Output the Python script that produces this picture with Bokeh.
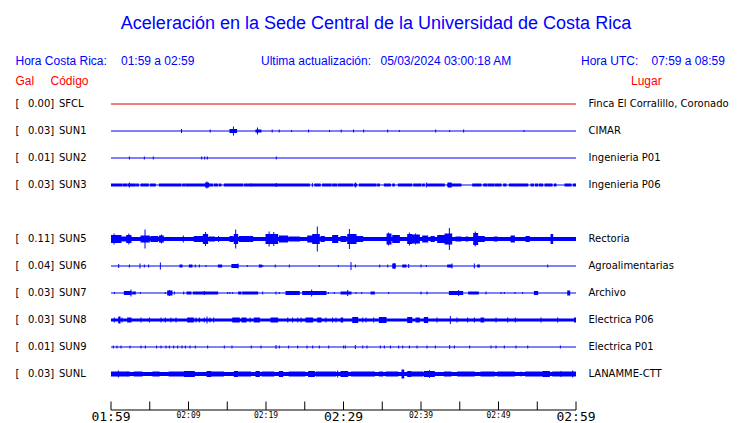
from bokeh.plotting import figure
from bokeh.models import Range1d, ColumnDataSource
from bokeh.core.properties import value
from bokeh.embed import file_html
from bokeh.resources import INLINE

# ---------------- data ----------------
title_text = "Aceleración en la Sede Central de la Universidad de Costa Rica"
hora_cr = "01:59 a 02:59"
ultima = "05/03/2024 03:00:18 AM"
hora_utc = "07:59 a 08:59"

codes = ["SFCL", "SUN1", "SUN2", "SUN3", "SUN5", "SUN6", "SUN7", "SUN8", "SUN9", "SUNL"]
gal = [0.00, 0.03, 0.01, 0.03, 0.11, 0.04, 0.03, 0.03, 0.01, 0.03]
lugares = ["Finca El Corralillo, Coronado", "CIMAR", "Ingenieria P01", "Ingenieria P06",
           "Rectoria", "Agroalimentarias", "Archivo", "Electrica P06", "Electrica P01",
           "LANAMME-CTT"]
slots = [0, 1, 2, 3, 5, 6, 7, 8, 9, 10]          # display slot (SUN4 has no trace)
trace_colors = ["#e00000"] + ["#0000ff"] * 9
# background noise half-amplitude of each trace (display units, 27 per slot)
noise_floor = [0, 0, 0, 1.5, 2, 0, 0, 1.5, 0, 2]

# tick marks (minutes after 01:59)
tick_minutes = [0, 5, 10, 15, 20, 25, 30, 35, 40, 45, 50, 55, 60]
major_minutes = [0, 30, 60]
major_labels = ["01:59", "02:29", "02:59"]
minor_minutes = [10, 20, 40, 50]
minor_labels = ["02:09", "02:19", "02:39", "02:49"]

# bursts: (start min, end min, half amplitude in display units)
sfcl = []
sun1 = [(9.1, 9.1, 2), (12.8, 12.8, 1.5), (15.35, 16.2, 2), (15.8, 15.8, 4.5), (18.7, 19.35, 1.5),
        (18.9, 18.9, 3.5), (20.8, 20.8, 1.5), (21.7, 21.7, 1.5), (23.3, 23.3, 1), (25.5, 25.5, 1.5),
        (28.2, 28.2, 1), (29.7, 29.7, 1.5), (31.3, 31.3, 1.5), (32.6, 32.6, 1.5), (35.7, 35.7, 1.5),
        (37.2, 37.2, 1), (41.9, 41.9, 1.5), (43.7, 43.7, 1), (45.5, 45.5, 1.5), (53.3, 53.3, 1)]
sun2 = [(2.37, 2.37, 1.5), (4.3, 4.3, 1.5), (5.46, 5.46, 1.5), (11.7, 11.7, 1.5), (12.09, 12.09, 1.5),
        (12.43, 12.43, 1.5), (21.33, 21.33, 1.5)]
sun3_floor = [(0.0, 1.42), (1.59, 2.02), (2.19, 3.14), (3.31, 3.53), (3.87, 4.82), (5.08, 5.72),
              (6.24, 9.03), (9.25, 9.55), (9.68, 12.26), (12.47, 13.12), (13.33, 13.76), (13.98, 14.19),
              (14.62, 16.99), (17.2, 25.6), (26.3, 27.0), (27.3, 28.4), (28.6, 29.1), (29.3, 31.19),
              (31.4, 31.7), (32.05, 34.2), (34.41, 34.63), (35.27, 36.05), (36.35, 36.56), (37.08, 38.8),
              (39.06, 40.0), (40.22, 40.43), (40.78, 43.01), (43.44, 45.16), (46.67, 47.74), (48.09, 48.48),
              (48.65, 49.38), (49.55, 50.32), (50.67, 50.97), (51.4, 52.26), (52.35, 53.77), (54.2, 54.5),
              (54.76, 55.06), (55.27, 55.7), (56.0, 56.91), (57.21, 57.42), (58.58, 59.36), (59.66, 60.0)]
sun3 = [(2.37, 2.37, 2.5), (12.2, 12.6, 2.5), (12.39, 12.39, 3.5), (18.1, 18.1, 1.5), (21.33, 21.33, 2),
        (25.98, 25.98, 2), (31.53, 31.53, 2.5), (40.69, 40.69, 2.5), (43.5, 43.9, 2.5)]
sun5 = [(0.0, 1.29, 4), (0.4, 0.4, 5.5), (1.42, 1.94, 2.5), (2.02, 2.58, 4), (2.3, 2.3, 5.5), (2.8, 3.44, 2),
        (3.87, 4.95, 3.5), (4.39, 4.39, 9.5), (5.16, 6.02, 3), (6.24, 6.75, 3.5), (6.5, 6.5, 4.5),
        (7.1, 7.96, 2), (9.33, 9.33, 3.5), (10.11, 10.54, 2), (10.75, 11.83, 3), (11.91, 12.47, 5),
        (12.2, 12.2, 7), (12.69, 13.33, 2.5), (13.89, 13.89, 3), (14.41, 14.84, 2), (15.35, 15.78, 3),
        (15.91, 16.34, 5), (16.09, 16.09, 9.5), (16.56, 18.28, 3), (18.71, 19.57, 2), (20.0, 21.5, 5),
        (20.4, 20.4, 7.5), (21.0, 21.0, 7), (21.72, 22.8, 3.5), (23.01, 24.3, 2.5), (24.73, 25.16, 2),
        (25.38, 26.24, 3.5), (26.02, 26.88, 5), (26.62, 26.62, 12.5), (27.1, 27.53, 3), (28.6, 29.25, 4),
        (29.68, 30.32, 3), (30.54, 31.62, 5), (30.76, 30.76, 10), (31.62, 32.48, 3), (33.98, 34.63, 2),
        (35.62, 36.13, 5.5), (35.8, 35.8, 6.5), (36.35, 37.21, 4), (38.28, 38.8, 5), (38.5, 38.5, 6.5),
        (38.8, 39.79, 4.5), (39.3, 39.3, 5.5), (40.22, 40.86, 3.5), (41.29, 41.72, 3), (42.15, 43.1, 4),
        (43.1, 43.96, 5.5), (43.66, 43.66, 11), (44.52, 45.16, 2.5), (45.81, 46.02, 2.5), (46.8, 47.31, 6),
        (47.0, 47.0, 7.5), (47.31, 48.17, 3), (49.46, 49.81, 2.5), (51.62, 52.05, 3.5), (53.55, 53.98, 3),
        (55.7, 56.13, 2), (56.78, 56.99, 5), (58.28, 58.28, 2), (59.79, 60.0, 2)]
sun6 = [(0.99, 0.99, 2), (2.37, 2.37, 1.5), (3.74, 3.74, 2.5), (4.3, 4.3, 1.5), (4.86, 4.86, 1.5),
        (6.37, 6.37, 3.5), (8.9, 9.16, 1.5), (10.11, 10.45, 1.5), (10.88, 10.88, 1.5), (11.4, 11.4, 1.5),
        (12.26, 12.26, 1), (13.85, 14.28, 1.5), (15.6, 16.34, 2), (16.4, 16.4, 2.5), (17.59, 17.59, 1),
        (19.14, 19.4, 1.5), (19.57, 19.57, 1), (21.2, 21.2, 1.5), (23.01, 23.01, 1.5), (26.88, 26.88, 1),
        (29.33, 29.33, 1), (30.97, 30.97, 4), (31.53, 31.53, 1.5), (34.67, 34.67, 1.5), (35.7, 35.7, 1.5),
        (36.35, 36.69, 2.5), (36.56, 36.56, 3), (37.64, 38.07, 1.5), (38.41, 38.41, 2), (40.0, 40.0, 1.5),
        (40.69, 40.69, 1), (43.44, 43.96, 1.5), (44.0, 44.0, 2.5), (46.88, 46.88, 2.5), (47.31, 47.53, 1.5),
        (56.35, 56.35, 1.5)]
sun7 = [(0.43, 0.43, 1), (1.72, 2.58, 2), (2.58, 2.58, 3.5), (2.8, 3.14, 1.5), (3.79, 3.79, 1),
        (7.01, 7.01, 1), (7.31, 7.87, 2.5), (7.53, 7.53, 3), (8.17, 8.17, 1.5), (9.38, 9.38, 1.5),
        (9.81, 10.32, 1.5), (10.62, 13.76, 1.5), (12.04, 12.04, 2), (15.05, 15.05, 1), (15.35, 15.35, 1),
        (15.7, 15.7, 1), (16.47, 16.77, 1.5), (16.99, 18.92, 1.5), (19.57, 19.57, 1.5), (21.29, 21.29, 1.5),
        (21.72, 21.72, 1), (22.58, 24.3, 2), (24.73, 27.74, 2), (25.89, 25.89, 3.5), (28.04, 28.04, 1),
        (28.82, 28.82, 1), (29.68, 30.97, 1.5), (30.54, 30.54, 3), (31.62, 31.62, 1), (32.35, 32.35, 1),
        (33.55, 33.98, 1.5), (35.83, 35.83, 1), (40.0, 40.0, 1.5), (40.78, 40.78, 1.5), (43.66, 45.38, 2),
        (44.86, 44.86, 3), (46.15, 47.4, 1.5), (48.39, 48.39, 1.5), (50.32, 50.32, 1), (50.75, 50.75, 1),
        (52.13, 52.13, 1), (53.12, 53.12, 1), (54.63, 55.06, 2), (58.93, 59.19, 2.5)]
sun8 = [(0.43, 0.43, 2.5), (0.99, 1.16, 3.5), (1.42, 1.42, 2.5), (2.15, 2.58, 2.5), (3.87, 3.87, 2.5),
        (4.95, 4.95, 2.5), (6.45, 6.45, 2.5), (7.01, 7.01, 2.5), (7.74, 7.74, 2.5), (8.39, 8.39, 2.5),
        (9.89, 10.62, 2.5), (10.97, 10.97, 2.5), (11.4, 11.4, 2.5), (12.04, 12.04, 2.5), (12.39, 12.39, 3.5),
        (12.77, 12.77, 2.5), (13.25, 13.25, 2.5), (15.7, 16.56, 2.5), (16.9, 17.42, 2.5), (17.94, 17.94, 2.5),
        (18.5, 19.14, 2.5), (20.65, 21.5, 2.5), (22.8, 22.8, 2.5), (23.44, 23.44, 2.5), (24.09, 24.09, 2.5),
        (24.52, 24.52, 2.5), (25.16, 26.02, 2.5), (26.67, 27.1, 2.5), (27.74, 27.74, 2.5), (28.6, 28.6, 2.5),
        (29.03, 29.03, 2.5), (29.68, 29.9, 2.5), (31.19, 31.83, 3), (32.48, 32.48, 2.5), (32.91, 32.91, 2.5),
        (33.9, 33.9, 2.5), (34.63, 35.49, 3), (38.28, 38.8, 3), (39.36, 39.79, 2.5), (40.43, 40.86, 3),
        (42.07, 42.07, 2.5), (43.79, 43.79, 4), (44.65, 44.65, 2.5), (46.02, 46.02, 2.5), (46.88, 46.88, 2.5),
        (47.74, 48.09, 2.5), (49.68, 49.68, 2.5), (51.19, 51.19, 2.5), (52.17, 52.17, 2.5), (55.49, 55.49, 2.5),
        (57.64, 57.64, 2.5), (59.8, 60.0, 2.5)]
sun9 = [(0.3, 0.3, 1.5), (0.77, 0.77, 1.5), (1.29, 1.29, 1.5), (2.45, 2.45, 1.5), (3.87, 3.87, 1.5),
        (4.43, 4.43, 1.5), (5.89, 5.89, 1.5), (6.45, 6.45, 1.5), (7.1, 7.1, 1.5), (7.53, 7.53, 1.5),
        (8.09, 8.09, 1.5), (8.6, 8.6, 1.5), (9.16, 9.16, 1.5), (9.59, 9.59, 1.5), (10.19, 10.19, 1.5),
        (10.88, 10.88, 1.5), (12.47, 12.47, 1.5), (14.62, 14.62, 1.5), (15.61, 15.61, 1.5), (18.1, 18.1, 1.5),
        (19.35, 19.35, 1.5), (21.29, 21.29, 2), (21.72, 21.72, 1.5), (22.92, 22.92, 1.5), (24.09, 24.09, 1.5),
        (25.29, 25.29, 1.5), (26.02, 26.02, 1.5), (26.88, 26.88, 1.5), (28.09, 28.09, 1.5), (30.24, 30.24, 1.5),
        (30.02, 30.02, 1.5), (31.53, 31.53, 2), (32.48, 32.48, 1.5), (33.03, 33.03, 1.5), (34.75, 34.75, 1.5),
        (35.27, 35.27, 1.5), (36.05, 36.05, 1.5), (37.12, 37.12, 1.5), (37.64, 37.64, 1.5), (38.5, 38.5, 1.5),
        (39.49, 39.49, 1.5), (40.78, 40.78, 1.5), (41.85, 41.85, 1.5), (43.7, 43.7, 2), (44.3, 44.3, 1.5),
        (46.28, 46.28, 1.5), (49.04, 49.04, 1.5), (49.68, 49.68, 1.5), (50.75, 50.75, 1.5), (52.26, 52.26, 1.5),
        (53.77, 53.77, 1.5), (57.98, 57.98, 1.5)]
sunl = [(0.0, 2.1, 2.5), (0.95, 0.95, 3.5), (2.15, 2.37, 2.5), (3.0, 4.0, 2.5), (5.4, 6.2, 2.5),
        (7.5, 9.3, 2.5), (9.46, 10.75, 3), (12.39, 12.9, 3), (13.0, 14.5, 2.5), (15.91, 16.34, 3),
        (16.5, 18.0, 2.5), (18.71, 19.14, 3), (19.5, 21.0, 2.5), (21.72, 22.15, 3), (23.0, 25.0, 2.5),
        (25.5, 26.24, 3), (26.5, 29.0, 2.5), (29.25, 29.25, 3.5), (29.68, 30.54, 3), (31.0, 34.0, 2.5),
        (34.63, 35.06, 2.5), (35.5, 37.0, 2.5), (37.55, 37.77, 4.5), (38.28, 38.71, 3), (38.8, 40.2, 2.5),
        (40.43, 41.72, 3), (41.08, 41.08, 4), (43.01, 43.87, 2.5), (44.73, 46.88, 2.5), (47.74, 49.46, 2.5),
        (49.9, 52.05, 2.5), (52.91, 52.91, 2.5), (53.5, 55.5, 2.5), (55.7, 56.56, 3), (57.0, 59.9, 2.5),
        (58.07, 58.07, 3), (59.57, 59.57, 3.5)]
bursts = [sfcl, sun1, sun2, sun3, sun5, sun6, sun7, sun8, sun9, sunl]
floor_intervals = [None, None, None, sun3_floor, None, None, None, None, None, None]

# ---------------- layout helpers ----------------
W, H = 740, 423
PXM = 7.75          # pixels per minute
PXS = 27.0          # pixels per slot
X0 = 110.5          # canvas x of 01:59
Y0 = 103.5          # canvas y of slot 0


def X(px):  # canvas pixel -> minutes
    return (px - X0) / PXM


def Y(py):  # canvas pixel -> slot units
    return (py - Y0) / PXS


p = figure(width=W, height=H, output_backend="svg", toolbar_location=None,
           x_range=Range1d(-X0 / PXM, (W - X0) / PXM),
           y_range=Range1d((H - Y0) / PXS, -Y0 / PXS),
           x_axis_type=None, y_axis_type=None, min_border=0)
p.grid.visible = False
p.outline_line_color = None
p.background_fill_color = "white"
p.border_fill_color = "white"

pad = 0.5 / PXM
for slot, col, nf, iv, bl in zip(slots, trace_colors, noise_floor, floor_intervals, bursts):
    p.segment(x0=[0], y0=[slot], x1=[60], y1=[slot], line_color=col, line_width=1)
    rects = []
    if nf > 0:
        spans = iv if iv is not None else [(0, 60)]
        rects += [(a, b, nf) for a, b in spans]
    rects += bl
    if rects:
        src = ColumnDataSource(dict(
            left=[max(0, a - pad) for a, b, h in rects],
            right=[min(60, b + pad) for a, b, h in rects],
            top=[slot - h / PXS for a, b, h in rects],
            bottom=[slot + h / PXS for a, b, h in rects]))
        p.quad(left="left", right="right", top="top", bottom="bottom", source=src,
               fill_color=col, line_color=None)

# station labels (y = visual centre of the text line)
txt_y = [s - 0.3 / PXS for s in slots]
lbl = ColumnDataSource(dict(y=txt_y, br=["["] * len(slots),
                            val=["%.2f]" % g for g in gal], code=codes, lugar=lugares))
common = dict(text_font=value("DejaVu Sans"), text_font_size="10px", text_color="black",
              text_baseline="middle", text_align="left", source=lbl)
p.text(x=X(15), y="y", text="br", **common)
p.text(x=X(27.5), y="y", text="val", **common)
p.text(x=X(58.5), y="y", text="code", **common)
p.text(x=X(588), y="y", text="lugar", **common)

# title and header
hdr = dict(text_font=value("Liberation Sans"), text_baseline="middle")
p.text(x=[X(375.5)], y=[Y(22)], text=[title_text], text_font_size="18px", text_color="#0000ff",
       text_align="center", **hdr)
p.text(x=[X(15), X(120.5), X(260.5), X(380), X(580.5), X(651)], y=[Y(60)] * 6,
       text=["Hora Costa Rica:", hora_cr, "Ultima actualización:", ultima, "Hora UTC:", hora_utc],
       text_font_size="12px", text_color="#0000ff", text_align="left", **hdr)
p.text(x=[X(15), X(50), X(630.5)], y=[Y(80)] * 3, text=["Gal", "Código", "Lugar"],
       text_font_size="12px", text_color="#ff0000", text_align="left", **hdr)

# time axis
ax_y = Y(409.5)
p.segment(x0=[0], y0=[ax_y], x1=[60], y1=[ax_y], line_color="black", line_width=1)
p.segment(x0=tick_minutes, y0=[Y(401)] * len(tick_minutes), x1=tick_minutes,
          y1=[ax_y] * len(tick_minutes), line_color="black", line_width=1)
p.text(x=major_minutes, y=[Y(416)] * 3, text=major_labels, text_font=value("DejaVu Sans Mono"),
       text_font_size="13px", text_align="center", text_baseline="middle", text_color="black")
p.text(x=minor_minutes, y=[Y(415)] * 4, text=minor_labels, text_font=value("DejaVu Sans Mono"),
       text_font_size="8px", text_align="center", text_baseline="middle", text_color="black")

open("out.html", "w").write(file_html(p, INLINE))
